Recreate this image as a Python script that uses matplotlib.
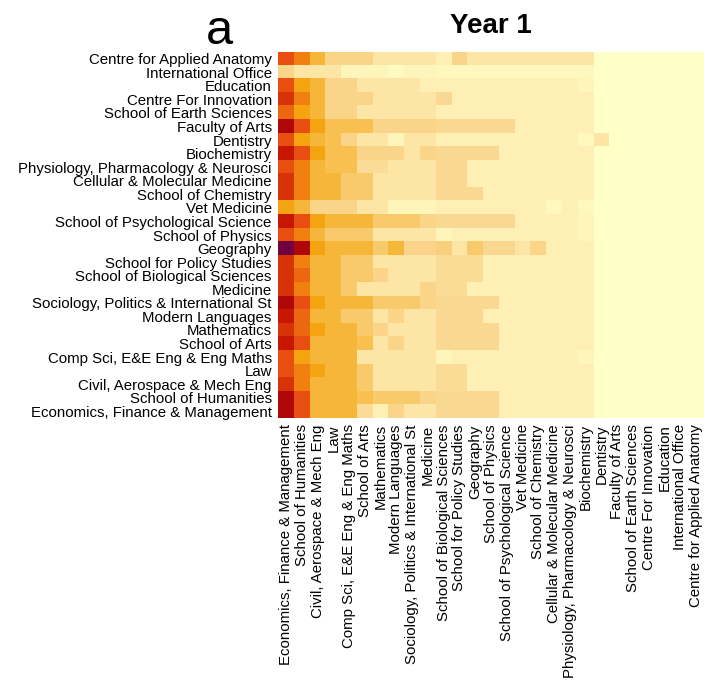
import matplotlib
matplotlib.use('Agg')
import matplotlib.pyplot as plt
from matplotlib.colors import LinearSegmentedColormap
import numpy as np

plt.rcParams['font.family'] = ['Liberation Sans', 'DejaVu Sans']

# departments, top row first
rows = ['Centre for Applied Anatomy', 'International Office', 'Education',
        'Centre For Innovation', 'School of Earth Sciences', 'Faculty of Arts',
        'Dentistry', 'Biochemistry', 'Physiology, Pharmacology & Neurosci',
        'Cellular & Molecular Medicine', 'School of Chemistry', 'Vet Medicine',
        'School of Psychological Science', 'School of Physics', 'Geography',
        'School for Policy Studies', 'School of Biological Sciences', 'Medicine',
        'Sociology, Politics & International St', 'Modern Languages', 'Mathematics',
        'School of Arts', 'Comp Sci, E&E Eng & Eng Maths', 'Law',
        'Civil, Aerospace & Mech Eng', 'School of Humanities',
        'Economics, Finance & Management']
cols = rows[::-1]

# intensity per department (row) against columns 0..19, columns 20..26 are all 0
vals = [
    [7, 6, 4.5, 3, 3, 3, 2, 2, 2, 2, 1.5, 3, 2, 2, 2, 2, 2, 2, 2, 2],
    [3, 2, 2, 2, 1, 1, 1, 0.5, 1, 1, 0.8, 0.8, 0.8, 0.8, 0.8, 0.8, 0.8, 0.8, 0.8, 0.8],
    [7, 5.5, 4.5, 3, 3, 2, 2, 2, 2, 1.5, 1.5, 1.5, 1.5, 1.5, 1.5, 1.5, 1.5, 1.5, 1.5, 1],
    [7.5, 6, 4.5, 3, 3, 3, 2, 2, 2, 2, 2.7, 1.5, 1.5, 1.5, 1.5, 1.5, 1.5, 1.5, 1.5, 1.5],
    [6.5, 5.5, 4.5, 3, 3, 2, 2, 2, 2, 2, 1.5, 1.5, 1.5, 1.5, 1.5, 1.5, 1.5, 1.5, 1.5, 1.5],
    [8.5, 7, 5.5, 4, 4, 4, 3, 3, 3, 3, 2.7, 2.7, 2.7, 2.7, 2.7, 1.5, 1.5, 1.5, 1.5, 1.5],
    [7, 5.5, 4.5, 4, 3, 2, 2, 1, 2, 2, 1.5, 1.5, 1.5, 1.5, 1.5, 1.5, 1.5, 1.5, 1.5, 0.8],
    [8, 7, 5.5, 4, 4, 3, 3, 3, 2, 3, 2.7, 2.7, 2.7, 2.7, 1.5, 1.5, 1.5, 1.5, 1.5, 1.5],
    [7, 6, 4.5, 4, 4, 2.5, 2.5, 2, 2, 2, 2.7, 2.7, 1.5, 1.5, 1.5, 1.5, 1.5, 1.5, 1.5, 1.5],
    [7.5, 6, 4.5, 4.5, 3.5, 3.5, 2, 2, 2, 2, 2.7, 2.7, 1.5, 1.5, 1.5, 1.5, 1.5, 1.5, 1.5, 1.5],
    [7.5, 6, 4.5, 4.5, 3.5, 3.5, 2, 2, 2, 2, 2.7, 2.7, 2.7, 1.5, 1.5, 1.5, 1.5, 1.5, 1.5, 1.5],
    [5.5, 4.5, 3, 3, 3, 2, 2, 1, 1, 1, 1.5, 1.5, 1.5, 1.5, 1.5, 1.5, 1.5, 0.8, 1.5, 0.8],
    [8, 7, 5.5, 4.5, 4.5, 4.5, 3.5, 3.5, 3.5, 3, 2.7, 2.7, 2.7, 2.7, 2.7, 1.5, 1.5, 1.5, 1.5, 1],
    [7, 6, 4.5, 3.5, 3.5, 3.5, 2, 2, 2, 2, 1, 1.5, 1.5, 1.5, 1.5, 1.5, 1.5, 1.5, 1.5, 1],
    [9, 8.5, 5.5, 4.5, 4.5, 4.5, 3.5, 4.5, 3, 3, 3.2, 2, 3.5, 2.8, 2.8, 2, 3, 1.5, 1.5, 1.5],
    [7.5, 6, 4.5, 4.5, 3.5, 3.5, 2, 2, 2, 2, 2.5, 2.5, 2.5, 1.5, 1.5, 1.5, 1.5, 1.5, 1.5, 1.5],
    [7.5, 6.5, 4.5, 4.5, 3.5, 3.5, 3, 2, 2, 2, 2.5, 2.5, 2.5, 1.5, 1.5, 1.5, 1.5, 1.5, 1.5, 1.5],
    [7.5, 6, 4.5, 4.5, 3.5, 2, 2, 2, 2, 3, 2.5, 2.5, 1.5, 1.5, 1.5, 1.5, 1.5, 1.5, 1.5, 1.5],
    [8.5, 7, 5.5, 4.5, 4.5, 4.5, 3.5, 3.5, 3.5, 3, 2.7, 2.7, 2.7, 2.7, 1.5, 1.5, 1.5, 1.5, 1.5, 1.5],
    [8, 6.5, 4.5, 4.5, 3.5, 3.5, 2, 3, 2, 2, 2.7, 2.7, 2.7, 1.5, 1.5, 1.5, 1.5, 1.5, 1.5, 1.5],
    [7.5, 6.5, 5.5, 4.5, 4.5, 3.5, 3, 2, 2, 2, 2.7, 2.7, 2.7, 2.7, 1.5, 1.5, 1.5, 1.5, 1.5, 1.5],
    [8, 7, 4.5, 4.5, 4.5, 4, 2, 3, 2, 2, 2.7, 2.7, 2.7, 2.7, 1.5, 1.5, 1.5, 1.5, 1.5, 1.5],
    [7, 5.5, 4.5, 4.5, 4.5, 2, 2, 2, 2, 2, 1, 1.5, 1.5, 1.5, 1.5, 1.5, 1.5, 1.5, 1.5, 1],
    [7, 6, 5.5, 4.5, 4.5, 3.5, 2, 2, 2, 2, 2.5, 2.5, 1.5, 1.5, 1.5, 1.5, 1.5, 1.5, 1.5, 1.5],
    [7.5, 6, 4.5, 4.5, 4.5, 3.5, 2, 2, 2, 2, 2.5, 2.5, 1.5, 1.5, 1.5, 1.5, 1.5, 1.5, 1.5, 1.5],
    [8.5, 7, 4.5, 4.5, 4.5, 4, 3.5, 3.5, 3.5, 3, 2.7, 2.7, 2.7, 2.7, 1.5, 1.5, 1.5, 1.5, 1.5, 1.5],
    [8.5, 7, 4.5, 4.5, 4.5, 2.5, 1.5, 3, 2, 2, 2.7, 2.7, 2.7, 2.7, 1.5, 1.5, 1.5, 1.5, 1.5, 1.5],
]
# one extra cell outside the block: Dentistry against Dentistry
dentistry_self = 2

mat = np.zeros((len(rows), len(cols)))
for i, r in enumerate(vals):
    mat[i, :len(r)] = r
mat[rows.index('Dentistry'), cols.index('Dentistry')] = dentistry_self

cmap = LinearSegmentedColormap.from_list('heat', [
    (0.0, '#FFFFC8'), (1.5 / 9, '#FEF0B5'), (2 / 9, '#FCE5A5'), (3 / 9, '#F9D489'),
    (4 / 9, '#F8C050'), (5.5 / 9, '#F5A510'), (6 / 9, '#F08010'), (7 / 9, '#E85010'),
    (8 / 9, '#C81800'), (8.5 / 9, '#B00808'), (1.0, '#700040')])

fig = plt.figure(figsize=(7.04, 6.82), dpi=100)
ax = fig.add_axes([0.395, 0.387, 0.605, 0.5368])
ax.imshow(mat, cmap=cmap, vmin=0, vmax=9, aspect='auto', interpolation='nearest')

ax.set_yticks(range(len(rows)))
ax.set_yticklabels(rows, fontsize=10.8)
ax.set_xticks(range(len(cols)))
ax.set_xticklabels(cols, fontsize=10.8, rotation=90)
ax.tick_params(length=0, pad=4.5)
for s in ax.spines.values():
    s.set_visible(False)

ax.set_title('Year 1', fontsize=20, fontweight='bold', pad=14)
fig.text(0.312, 0.935, 'a', fontsize=35, ha='center', va='baseline')

fig.savefig('out.png', dpi=100)
